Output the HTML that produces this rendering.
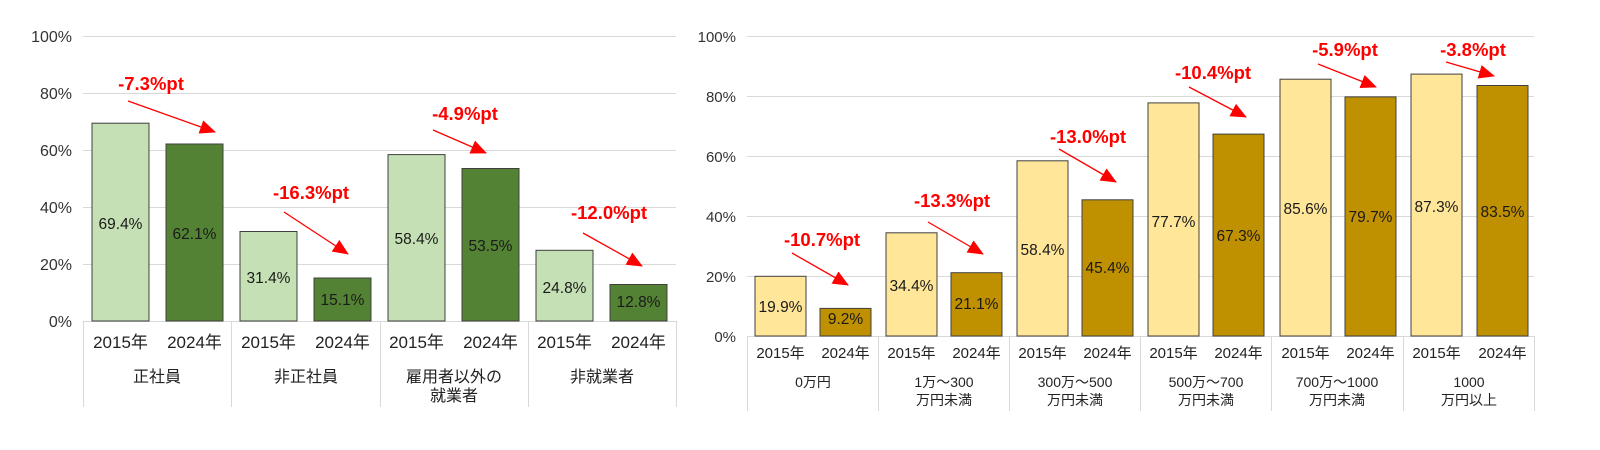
<!DOCTYPE html>
<html><head><meta charset="utf-8"><style>
html,body{margin:0;padding:0;background:#fff;}
svg{display:block;font-family:"Liberation Sans","Noto Sans CJK JP",sans-serif;}
</style></head><body>
<svg width="1600" height="450" viewBox="0 0 1600 450" xmlns="http://www.w3.org/2000/svg">
<defs>
<marker id="ah2" markerWidth="16" markerHeight="14" refX="15" refY="7" orient="auto" markerUnits="userSpaceOnUse" viewBox="0 0 16 14">
<path d="M0,0 L16,7 L0,14 z" fill="#ff0000"/>
</marker>
</defs>

<!-- LEFT CHART -->
<g stroke="#d9d9d9" stroke-width="1">
<line x1="83" y1="36.5" x2="676" y2="36.5"/>
<line x1="83" y1="93.5" x2="676" y2="93.5"/>
<line x1="83" y1="150.5" x2="676" y2="150.5"/>
<line x1="83" y1="207.5" x2="676" y2="207.5"/>
<line x1="83" y1="264.5" x2="676" y2="264.5"/>
<line x1="83" y1="321.5" x2="676" y2="321.5"/>
<line x1="83.5" y1="321" x2="83.5" y2="407"/>
<line x1="231.5" y1="321" x2="231.5" y2="407"/>
<line x1="380.5" y1="321" x2="380.5" y2="407"/>
<line x1="528.5" y1="321" x2="528.5" y2="407"/>
<line x1="676.5" y1="321" x2="676.5" y2="407"/>
</g>
<g font-size="16" fill="#333" text-anchor="end">
<text x="72" y="42">100%</text><text x="72" y="99">80%</text><text x="72" y="156">60%</text>
<text x="72" y="213">40%</text><text x="72" y="270">20%</text><text x="72" y="327">0%</text>
</g>
<g stroke="#404040" stroke-width="1">
<rect x="92" y="123.2" width="57" height="197.8" fill="#c5e0b4"/>
<rect x="166" y="144" width="57" height="177" fill="#548235"/>
<rect x="240" y="231.5" width="57" height="89.5" fill="#c5e0b4"/>
<rect x="314" y="278" width="57" height="43" fill="#548235"/>
<rect x="388" y="154.6" width="57" height="166.4" fill="#c5e0b4"/>
<rect x="462" y="168.5" width="57" height="152.5" fill="#548235"/>
<rect x="536" y="250.3" width="57" height="70.7" fill="#c5e0b4"/>
<rect x="610" y="284.5" width="57" height="36.5" fill="#548235"/>
</g>
<g font-size="15.5" fill="#1a1a1a" text-anchor="middle">
<text x="120.5" y="229">69.4%</text><text x="194.5" y="239">62.1%</text>
<text x="268.5" y="283">31.4%</text><text x="342.5" y="305">15.1%</text>
<text x="416.5" y="244">58.4%</text><text x="490.5" y="251">53.5%</text>
<text x="564.5" y="293">24.8%</text><text x="638.5" y="307">12.8%</text>
</g>
<g font-size="17" fill="#222" text-anchor="middle">
<text x="120.5" y="348">2015年</text><text x="194.5" y="348">2024年</text>
<text x="268.5" y="348">2015年</text><text x="342.5" y="348">2024年</text>
<text x="416.5" y="348">2015年</text><text x="490.5" y="348">2024年</text>
<text x="564.5" y="348">2015年</text><text x="638.5" y="348">2024年</text>
</g>
<g font-size="16" fill="#222" text-anchor="middle">
<text x="157" y="382">正社員</text>
<text x="306" y="382">非正社員</text>
<text x="454" y="382">雇用者以外の</text>
<text x="454" y="401">就業者</text>
<text x="602" y="382">非就業者</text>
</g>
<g font-size="18.5" font-weight="bold" fill="#ff0000" text-anchor="middle">
<text x="151" y="90">-7.3%pt</text>
<text x="311" y="199">-16.3%pt</text>
<text x="465" y="120">-4.9%pt</text>
<text x="609" y="219">-12.0%pt</text>
</g>
<g stroke="#ff0000" stroke-width="1.3" marker-end="url(#ah2)">
<line x1="128" y1="101" x2="215" y2="132"/>
<line x1="284" y1="212" x2="348" y2="254"/>
<line x1="433" y1="130" x2="486" y2="153"/>
<line x1="583" y1="233" x2="642" y2="266"/>
</g>

<!-- RIGHT CHART -->
<g stroke="#d9d9d9" stroke-width="1">
<line x1="747" y1="36.5" x2="1534" y2="36.5"/>
<line x1="747" y1="96.5" x2="1534" y2="96.5"/>
<line x1="747" y1="156.5" x2="1534" y2="156.5"/>
<line x1="747" y1="216.5" x2="1534" y2="216.5"/>
<line x1="747" y1="276.5" x2="1534" y2="276.5"/>
<line x1="747" y1="336.5" x2="1534" y2="336.5"/>
<line x1="747.5" y1="336" x2="747.5" y2="411"/>
<line x1="878.5" y1="336" x2="878.5" y2="411"/>
<line x1="1009.5" y1="336" x2="1009.5" y2="411"/>
<line x1="1140.5" y1="336" x2="1140.5" y2="411"/>
<line x1="1271.5" y1="336" x2="1271.5" y2="411"/>
<line x1="1403.5" y1="336" x2="1403.5" y2="411"/>
<line x1="1534.5" y1="336" x2="1534.5" y2="411"/>
</g>
<g font-size="15" fill="#333" text-anchor="end">
<text x="736" y="42">100%</text><text x="736" y="102">80%</text><text x="736" y="162">60%</text>
<text x="736" y="222">40%</text><text x="736" y="282">20%</text><text x="736" y="342">0%</text>
</g>
<g stroke="#404040" stroke-width="1">
<rect x="755" y="276.3" width="51" height="59.7" fill="#ffe699"/>
<rect x="820" y="308.4" width="51" height="27.6" fill="#bf9000"/>
<rect x="886" y="232.8" width="51" height="103.2" fill="#ffe699"/>
<rect x="951" y="272.7" width="51" height="63.3" fill="#bf9000"/>
<rect x="1017" y="160.8" width="51" height="175.2" fill="#ffe699"/>
<rect x="1082" y="199.8" width="51" height="136.2" fill="#bf9000"/>
<rect x="1148" y="102.9" width="51" height="233.1" fill="#ffe699"/>
<rect x="1213" y="134.1" width="51" height="201.9" fill="#bf9000"/>
<rect x="1280" y="79.2" width="51" height="256.8" fill="#ffe699"/>
<rect x="1345" y="96.9" width="51" height="239.1" fill="#bf9000"/>
<rect x="1411" y="74.1" width="51" height="261.9" fill="#ffe699"/>
<rect x="1477" y="85.5" width="51" height="250.5" fill="#bf9000"/>
</g>
<g font-size="15.5" fill="#1a1a1a" text-anchor="middle">
<text x="780.5" y="312">19.9%</text><text x="845.5" y="324">9.2%</text>
<text x="911.5" y="291">34.4%</text><text x="976.5" y="309">21.1%</text>
<text x="1042.5" y="255">58.4%</text><text x="1107.5" y="273">45.4%</text>
<text x="1173.5" y="227">77.7%</text><text x="1238.5" y="241">67.3%</text>
<text x="1305.5" y="214">85.6%</text><text x="1370.5" y="222">79.7%</text>
<text x="1436.5" y="212">87.3%</text><text x="1502.5" y="217">83.5%</text>
</g>
<g font-size="15" fill="#222" text-anchor="middle">
<text x="780.5" y="358">2015年</text><text x="845.5" y="358">2024年</text>
<text x="911.5" y="358">2015年</text><text x="976.5" y="358">2024年</text>
<text x="1042.5" y="358">2015年</text><text x="1107.5" y="358">2024年</text>
<text x="1173.5" y="358">2015年</text><text x="1238.5" y="358">2024年</text>
<text x="1305.5" y="358">2015年</text><text x="1370.5" y="358">2024年</text>
<text x="1436.5" y="358">2015年</text><text x="1502.5" y="358">2024年</text>
</g>
<g font-size="14" fill="#222" text-anchor="middle">
<text x="813" y="387">0万円</text>
<text x="944" y="387">1万～300</text><text x="944" y="405">万円未満</text>
<text x="1075" y="387">300万～500</text><text x="1075" y="405">万円未満</text>
<text x="1206" y="387">500万～700</text><text x="1206" y="405">万円未満</text>
<text x="1337" y="387">700万～1000</text><text x="1337" y="405">万円未満</text>
<text x="1469" y="387">1000</text><text x="1469" y="405">万円以上</text>
</g>
<g font-size="18.5" font-weight="bold" fill="#ff0000" text-anchor="middle">
<text x="822" y="246">-10.7%pt</text>
<text x="952" y="207">-13.3%pt</text>
<text x="1088" y="143">-13.0%pt</text>
<text x="1213" y="79">-10.4%pt</text>
<text x="1345" y="56">-5.9%pt</text>
<text x="1473" y="56">-3.8%pt</text>
</g>
<g stroke="#ff0000" stroke-width="1.3" marker-end="url(#ah2)">
<line x1="792" y1="253" x2="848" y2="285"/>
<line x1="928" y1="222" x2="983" y2="254"/>
<line x1="1059" y1="149" x2="1116" y2="182"/>
<line x1="1189" y1="87" x2="1246" y2="117"/>
<line x1="1318" y1="64" x2="1376" y2="87"/>
<line x1="1446" y1="62" x2="1494" y2="76"/>
</g>
</svg>
</body></html>
